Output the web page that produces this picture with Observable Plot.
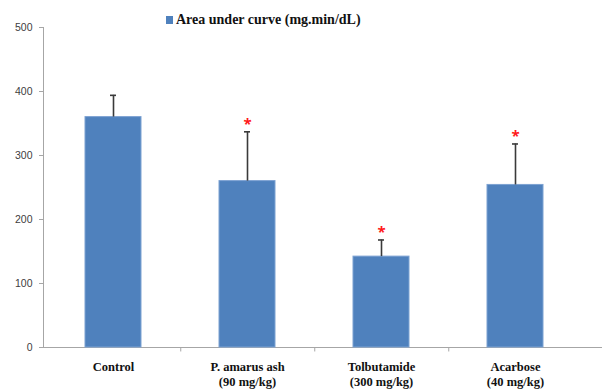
<!DOCTYPE html>
<html>
<head>
<meta charset="utf-8">
<script src="https://cdn.jsdelivr.net/npm/d3@7"></script>
<script src="https://cdn.jsdelivr.net/npm/@observablehq/plot@0.6"></script>
<style>
  html, body { margin: 0; padding: 0; background: #fff; }
  #wrap { position: relative; width: 602px; height: 389px; overflow: hidden; }
  #legend { position: absolute; left: 166px; top: 12px; display: flex; align-items: center;
    font: bold 14px "Liberation Serif", "Times New Roman", serif; color: #111; white-space: nowrap; }
  #legend .sw { width: 7px; height: 8px; background: #4F81BD; margin-right: 3px; }
</style>
</head>
<body>
<div id="wrap"><div id="legend"><span class="sw"></span><span>Area under curve (mg.min/dL)</span></div></div>
<script>
const categories = ["Control", "P. amarus ash\n(90 mg/kg)", "Tolbutamide\n(300 mg/kg)", "Acarbose\n(40 mg/kg)"];
const means = [360, 260, 142, 254];
const errors = [34, 77, 26, 64];
const significant = [false, true, true, true];
const yTicks = [0, 100, 200, 300, 400, 500];

const data = categories.map((c, i) => ({cat: c, mean: means[i], top: means[i] + errors[i], sig: significant[i]}));
const boundaries = categories.slice(0, 3);
const step = (583 - 45) / categories.length;

const chart = Plot.plot({
  width: 602,
  height: 389,
  marginTop: 27,
  marginBottom: 42,
  marginLeft: 43,
  marginRight: 0,
  style: {background: "#fff"},
  x: {domain: categories, range: [45, 583], paddingInner: 0.58, paddingOuter: 0.29, label: null},
  y: {domain: [0, 500], label: null},
  marks: [
    Plot.frame({anchor: "left", stroke: "#a6a6a6"}),
    Plot.ruleY([0], {stroke: "#a6a6a6", strokeWidth: 1.2}),
    Plot.ruleX(boundaries, {x: d => d, y1: 0, y2: -7, dx: step / 2, stroke: "#a6a6a6"}),
    Plot.axisY({ticks: yTicks, tickSize: 4, tickPadding: 7, stroke: "#a6a6a6",
      fill: "#404040", fontSize: 10.5, fontFamily: "Liberation Sans, Arial, sans-serif"}),
    Plot.axisX({tickSize: 0, tickPadding: 13, lineHeight: 1.2, fontSize: 12.5, fontWeight: "bold",
      fontFamily: "Liberation Serif, Times New Roman, serif", fill: "#111"}),
    Plot.barY(data, {x: "cat", y: "mean", fill: "#4F81BD", stroke: "#7da2d2", strokeWidth: 1}),
    Plot.ruleX(data, {x: "cat", y1: "mean", y2: "top", stroke: "#3a3a3a", strokeWidth: 1.6}),
    Plot.tickY(data, {x: "cat", y: "top", stroke: "#3a3a3a", strokeWidth: 1.6, insetLeft: 25, insetRight: 25}),
    Plot.text(data.filter(d => d.sig), {x: "cat", y: "top", text: () => "*", fill: "#ff1a1a",
      fontSize: 15, fontWeight: "bold", dy: -3, lineAnchor: "bottom"})
  ]
});
document.getElementById("wrap").prepend(chart);
chart.style.position = "absolute";
chart.style.left = "0";
chart.style.top = "0";
</script>
</body>
</html>
